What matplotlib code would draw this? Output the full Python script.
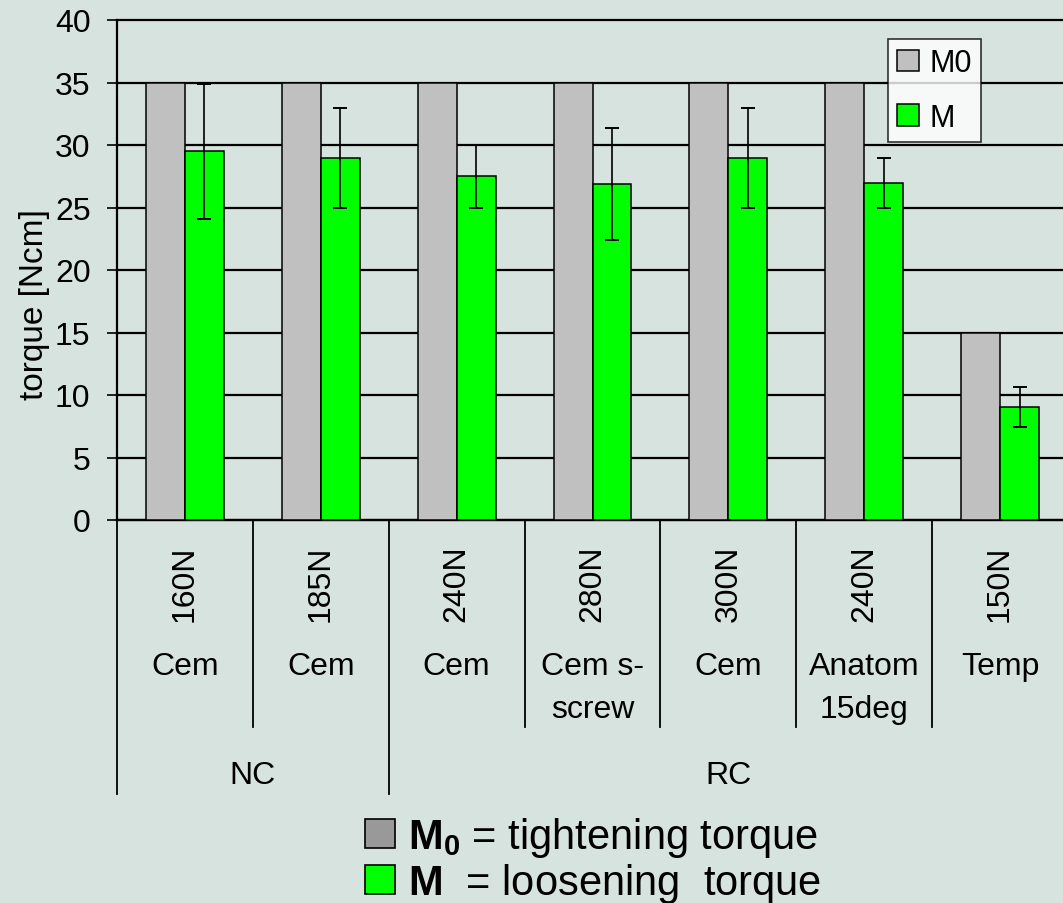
import numpy as np
import matplotlib.pyplot as plt
from matplotlib import transforms
from matplotlib.patches import Patch

plt.rcParams['font.family'] = ['Liberation Sans', 'DejaVu Sans']
plt.rcParams['mathtext.fontset'] = 'custom'
plt.rcParams['mathtext.rm'] = 'Liberation Sans'
plt.rcParams['mathtext.bf'] = 'Liberation Sans:bold'

# data
loads = ['160N', '185N', '240N', '280N', '300N', '240N', '150N']
kinds = ['Cem', 'Cem', 'Cem', 'Cem s-\nscrew', 'Cem', 'Anatom\n15deg', 'Temp']
groups = ['NC', 'RC']
group_span = [(0, 1), (2, 6)]
m0 = [35, 35, 35, 35, 35, 35, 15]
m = [29.5, 29.0, 27.5, 26.9, 29.0, 27.0, 9.05]
m_err = [5.4, 4.0, 2.5, 4.5, 4.0, 2.0, 1.6]

bg = '#d7e3de'
W, H = 1063, 904
fig = plt.figure(figsize=(W / 100, H / 100), dpi=100, facecolor=bg)
ax = fig.add_axes([117 / W, 1 - 521 / H, (1068 - 117) / W, 500 / H])
ax.set_facecolor(bg)

x = np.arange(len(loads))
bw = 0.287
ax.bar(x - bw / 2, m0, bw, color='#c0c0c0', edgecolor='black', linewidth=1.1, zorder=3, label='M0')
ax.bar(x + bw / 2, m, bw, color='#00ff00', edgecolor='black', linewidth=1.1, zorder=3, label='M')
ax.errorbar(x + bw / 2, m, yerr=m_err, fmt='none', ecolor='black', elinewidth=1.2,
            capsize=4.7, capthick=1.4, zorder=4)

ax.set_xlim(-0.5, len(loads) - 0.5)
ax.set_ylim(0, 40)
ax.set_yticks(np.arange(0, 41, 5))
ax.yaxis.grid(True, color='black', linewidth=1.6, zorder=1)
for gl in ax.get_ygridlines():
    gl.set_clip_on(False)
ax.set_axisbelow(True)
ax.set_xticks([])
ax.tick_params(axis='y', direction='out', length=7, width=1.2, labelsize=23, pad=12)
for s in ['top', 'right']:
    ax.spines[s].set_visible(False)
ax.spines['left'].set_linewidth(1.6)
ax.spines['bottom'].set_linewidth(1.6)

fig.text(35 / W, 1 - 305 / H, 'torque [Ncm]', rotation=90, ha='center', va='center', fontsize=24)

leg = ax.legend(loc='upper left', bbox_to_anchor=((888 - 117) / (1068 - 117), 1 - 19 / 500),
                fontsize=22, frameon=True, fancybox=False, edgecolor='black',
                handlelength=0.7, handleheight=0.7, handletextpad=0.35,
                labelspacing=0.8, borderpad=0.3, borderaxespad=0)
leg.get_frame().set_linewidth(1.2)
leg.get_frame().set_facecolor('white')
leg.set_zorder(5)

# multi-level category axis
tr = transforms.blended_transform_factory(ax.transData, fig.transFigure)
def fy(py):
    return 1 - py / H

for i in range(len(loads)):
    ax.text(i, fy(584), loads[i], rotation=90, ha='center', va='center', fontsize=23,
            transform=tr)
    for j, line in enumerate(kinds[i].split('\n')):
        ax.text(i, fy(667 + 43 * j), line, ha='center', va='center', fontsize=23,
                transform=tr)

edges = [-0.5] + [b + 0.5 for a, b in group_span]
for k in range(len(loads) + 1):
    xe = k - 0.5
    y_end = 795 if xe in edges else 728
    ax.plot([xe, xe], [fy(521), fy(y_end)], color='black', linewidth=1.3,
            transform=tr, clip_on=False)

for g, (a, b) in zip(groups, group_span):
    ax.text((a + b) / 2, fy(776), g, ha='center', va='center', fontsize=23, transform=tr)

# explanation legend below chart
handles = [Patch(facecolor='#999999', edgecolor='black', linewidth=1.2),
           Patch(facecolor='#00ff00', edgecolor='black', linewidth=1.2)]
labels = [r'$\mathbf{M_0}$ = tightening torque', r'$\mathbf{M}$  = loosening  torque']
fig.legend(handles, labels, loc='upper left', bbox_to_anchor=(365 / W, 1 - 816 / H),
           fontsize=30, frameon=False, handlelength=0.72, handleheight=0.72,
           handletextpad=0.3, labelspacing=0.05, borderpad=0, borderaxespad=0)

fig.savefig('out.png', dpi=100, facecolor=bg)
